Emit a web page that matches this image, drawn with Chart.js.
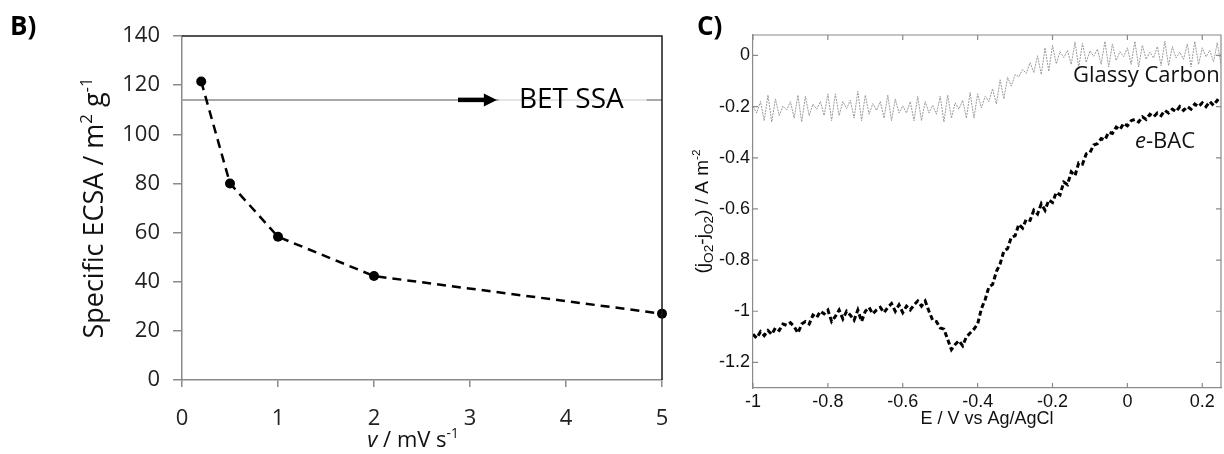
<!DOCTYPE html>
<html><head><meta charset="utf-8">
<script src="https://cdn.jsdelivr.net/npm/chart.js@4/dist/chart.umd.min.js"></script>
<style>
html,body{margin:0;padding:0;background:#fff;width:1224px;height:454px;overflow:hidden}
#wb{position:absolute;left:0;top:0;width:680px;height:454px}
#wc{position:absolute;left:680px;top:0;width:544px;height:454px}
</style></head><body>
<div id="wb"><canvas id="cb" width="680" height="454"></canvas></div>
<div id="wc"><canvas id="cc" width="544" height="454"></canvas></div>
<script>
// ---------- Panel B data ----------
const scanRates = [0.2, 0.5, 1, 2, 5];
const specificECSA = [121.5, 80, 58.3, 42.3, 27];
const betSSA = 114;
const bXTicks = [0, 1, 2, 3, 4, 5];
const bYTicks = [0, 20, 40, 60, 80, 100, 120, 140];

// ---------- Panel C data ----------
const potentialE = [
 -1.00,-0.99,-0.98,-0.97,-0.96,-0.95,-0.94,-0.93,-0.92,-0.91,
 -0.90,-0.89,-0.88,-0.87,-0.86,-0.85,-0.84,-0.83,-0.82,-0.81,
 -0.80,-0.79,-0.78,-0.77,-0.76,-0.75,-0.74,-0.73,-0.72,-0.71,
 -0.70,-0.69,-0.68,-0.67,-0.66,-0.65,-0.64,-0.63,-0.62,-0.61,
 -0.60,-0.59,-0.58,-0.57,-0.56,-0.55,-0.54,-0.53,-0.52,-0.51,
 -0.50,-0.49,-0.48,-0.47,-0.46,-0.45,-0.44,-0.43,-0.42,-0.41,
 -0.40,-0.39,-0.38,-0.37,-0.36,-0.35,-0.34,-0.33,-0.32,-0.31,
 -0.30,-0.29,-0.28,-0.27,-0.26,-0.25,-0.24,-0.23,-0.22,-0.21,
 -0.20,-0.19,-0.18,-0.17,-0.16,-0.15,-0.14,-0.13,-0.12,-0.11,
 -0.10,-0.09,-0.08,-0.07,-0.06,-0.05,-0.04,-0.03,-0.02,-0.01,
  0.00, 0.01, 0.02, 0.03, 0.04, 0.05, 0.06, 0.07, 0.08, 0.09,
  0.10, 0.11, 0.12, 0.13, 0.14, 0.15, 0.16, 0.17, 0.18, 0.19,
  0.20, 0.21, 0.22, 0.23, 0.24, 0.25
];
const glassyCarbon = [
 -0.200,-0.225,-0.180,-0.255,-0.155,-0.260,-0.170,-0.235,-0.198,-0.213,
 -0.180,-0.245,-0.155,-0.260,-0.160,-0.235,-0.190,-0.210,-0.180,-0.235,
 -0.150,-0.255,-0.150,-0.235,-0.180,-0.208,-0.175,-0.245,-0.140,-0.255,
 -0.155,-0.230,-0.188,-0.215,-0.180,-0.245,-0.155,-0.255,-0.170,-0.225,
 -0.197,-0.225,-0.180,-0.255,-0.160,-0.255,-0.180,-0.225,-0.195,-0.230,
 -0.160,-0.260,-0.155,-0.245,-0.185,-0.210,-0.175,-0.245,-0.145,-0.245,
 -0.150,-0.205,-0.160,-0.180,-0.130,-0.190,-0.095,-0.170,-0.085,-0.120,
 -0.075,-0.083,-0.055,-0.070,-0.028,-0.067,-0.001,-0.075, 0.030,-0.062,
  0.039,-0.033, 0.015,-0.008, 0.020,-0.035, 0.053,-0.047, 0.048,-0.027,
  0.018,-0.003, 0.025,-0.035, 0.055,-0.045, 0.045,-0.020, 0.015,-0.005,
  0.030,-0.035, 0.055,-0.045, 0.040,-0.015, 0.013,-0.010, 0.035,-0.040,
  0.055,-0.040, 0.035,-0.010, 0.013,-0.015, 0.045,-0.045, 0.055,-0.035,
  0.030,-0.005, 0.020,-0.025, 0.050,-0.035
];
const eBAC = [
 -1.090,-1.105,-1.080,-1.095,-1.075,-1.090,-1.065,-1.075,-1.050,-1.055,
 -1.045,-1.060,-1.085,-1.050,-1.040,-1.050,-1.015,-1.025,-1.000,-1.010,
 -0.995,-1.040,-1.020,-0.995,-1.030,-1.000,-1.015,-1.035,-0.995,-1.040,
 -1.000,-0.985,-1.010,-0.995,-0.985,-1.005,-0.985,-0.970,-1.000,-0.975,
 -1.005,-0.980,-0.995,-0.975,-0.960,-0.980,-0.960,-1.000,-1.035,-1.040,
 -1.065,-1.070,-1.110,-1.150,-1.130,-1.115,-1.135,-1.100,-1.085,-1.070,
 -1.050,-0.990,-0.955,-0.905,-0.895,-0.845,-0.815,-0.765,-0.755,-0.710,
 -0.705,-0.660,-0.675,-0.640,-0.645,-0.605,-0.620,-0.580,-0.605,-0.565,
 -0.575,-0.535,-0.545,-0.495,-0.505,-0.455,-0.470,-0.420,-0.425,-0.385,
 -0.380,-0.350,-0.345,-0.325,-0.330,-0.300,-0.305,-0.280,-0.290,-0.265,
 -0.275,-0.255,-0.250,-0.260,-0.240,-0.250,-0.230,-0.240,-0.225,-0.235,
 -0.215,-0.225,-0.210,-0.220,-0.200,-0.215,-0.200,-0.210,-0.190,-0.200,
 -0.185,-0.200,-0.180,-0.195,-0.175,-0.185
];
const cXTicks = [-1, -0.8, -0.6, -0.4, -0.2, 0, 0.2];
const cXTickLabels = ['-1', '-0.8', '-0.6', '-0.4', '-0.2', '0', '0.2'];
const cYTicks = [0, -0.2, -0.4, -0.6, -0.8, -1, -1.2];
const cYTickLabels = ['0', '-0.2', '-0.4', '-0.6', '-0.8', '-1', '-1.2'];

// ---------- helpers ----------
function drawRich(ctx, segs, x, y, o) {
  ctx.save();
  ctx.translate(x, y);
  if (o.rotate) ctx.rotate(-Math.PI / 2);
  ctx.textBaseline = 'alphabetic';
  ctx.textAlign = 'left';
  ctx.fillStyle = o.color || '#000';
  const items = segs.map(sg => {
    const sz = sg.k ? o.size * (sg.k === 'sup' ? 0.62 : 0.72) : o.size;
    const font = (sg.i ? 'italic ' : '') + (o.weight || '') + ' ' + sz + 'px ' + o.family;
    ctx.font = font;
    return {t: sg.t, font, w: ctx.measureText(sg.t).width,
      dy: sg.k === 'sup' ? -o.size * 0.4 : (sg.k === 'sub' ? o.size * 0.25 : 0)};
  });
  const total = items.reduce((a, b) => a + b.w, 0);
  let cx = o.align === 'center' ? -total / 2 : 0;
  items.forEach(it => { ctx.font = it.font; ctx.fillText(it.t, cx, it.dy); cx += it.w; });
  ctx.restore();
}
function noPad(s) { s.paddingLeft = 0; s.paddingRight = 0; s.paddingTop = 0; s.paddingBottom = 0; }

const OPEN = '"Open Sans", "DejaVu Sans", sans-serif';
const ARIAL = '"Liberation Sans", Arial, sans-serif';

// ---------- Panel B ----------
const bDecor = {
  id: 'bDecor',
  afterDatasetsDraw(chart) {
    const {ctx, scales: {x, y}} = chart;
    const yb = y.getPixelForValue(betSSA);
    ctx.save();
    ctx.fillStyle = 'rgba(255,255,255,0.7)';
    const vx0 = x.getPixelForValue(3.3), vx1 = x.getPixelForValue(4.84);
    ctx.fillRect(vx0, yb - 3, vx1 - vx0, 6);
    const ax0 = x.getPixelForValue(2.875), ax1 = x.getPixelForValue(3.28);
    ctx.strokeStyle = '#000'; ctx.lineWidth = 4.5;
    ctx.beginPath(); ctx.moveTo(ax0, yb); ctx.lineTo(ax1 - 10, yb); ctx.stroke();
    ctx.fillStyle = '#000';
    ctx.beginPath(); ctx.moveTo(ax1, yb); ctx.lineTo(ax1 - 13, yb - 6.5); ctx.lineTo(ax1 - 13, yb + 6.5); ctx.closePath(); ctx.fill();
    ctx.font = '28px ' + OPEN; ctx.textBaseline = 'alphabetic'; ctx.textAlign = 'left';
    ctx.fillText('BET SSA', x.getPixelForValue(3.51), yb + 8);
    ctx.restore();
  },
  afterDraw(chart) {
    const {ctx, chartArea: a} = chart;
    ctx.save();
    ctx.strokeStyle = '#1a1a1a'; ctx.lineWidth = 1.5;
    ctx.beginPath(); ctx.moveTo(a.left, a.top); ctx.lineTo(a.right, a.top); ctx.lineTo(a.right, a.bottom); ctx.stroke();
    ctx.restore();
    drawRich(ctx, [{t: 'Specific ECSA / m'}, {t: '2', k: 'sup'}, {t: ' g'}, {t: '-1', k: 'sup'}],
      103, (a.top + a.bottom) / 2, {rotate: true, align: 'center', size: 27, family: OPEN, color: '#111'});
    drawRich(ctx, [{t: 'v', i: true}, {t: ' / mV s'}, {t: '-1', k: 'sup'}],
      (a.left + a.right) / 2 - 9, 447, {align: 'center', size: 22, family: OPEN, color: '#111'});
    drawRich(ctx, [{t: 'B)'}], 10, 35, {size: 26, family: OPEN, weight: 'bold', color: '#000'});
  }
};

new Chart(document.getElementById('cb'), {
  type: 'line',
  data: {datasets: [
    {data: scanRates.map((v, i) => ({x: v, y: specificECSA[i]})), borderColor: '#000', borderWidth: 2.5,
     borderDash: [9, 6], pointRadius: 5, pointBackgroundColor: '#000', pointBorderWidth: 0, clip: false, tension: 0},
    {data: [{x: bXTicks[0], y: betSSA}, {x: bXTicks[bXTicks.length - 1], y: betSSA}], borderColor: '#a8a8a8',
     borderWidth: 2, pointRadius: 0}
  ]},
  options: {
    responsive: false, animation: false, events: [],
    layout: {padding: {left: 0, right: 18, top: 36, bottom: 0}},
    plugins: {legend: {display: false}, tooltip: {enabled: false}},
    scales: {
      x: {type: 'linear', min: 0, max: 5,
        afterBuildTicks: s => { s.ticks = bXTicks.map(v => ({value: v})); },
        afterFit: s => { s.height = 74; noPad(s); },
        grid: {drawOnChartArea: false, tickLength: 7, color: '#8a8a8a', lineWidth: 1.5},
        border: {color: '#8a8a8a', width: 1.5},
        ticks: {font: {family: OPEN, size: 22}, color: '#222', padding: 19, maxRotation: 0, autoSkip: false}},
      y: {type: 'linear', min: 0, max: 140,
        afterBuildTicks: s => { s.ticks = bYTicks.map(v => ({value: v})); },
        afterFit: s => { s.width = 182; noPad(s); },
        grid: {drawOnChartArea: false, tickLength: 9, color: '#8a8a8a', lineWidth: 1.5},
        border: {color: '#8a8a8a', width: 1.5},
        ticks: {font: {family: OPEN, size: 22}, color: '#222', padding: 13, autoSkip: false}}
    }
  },
  plugins: [bDecor]
});

// ---------- Panel C ----------
const cDecor = {
  id: 'cDecor',
  afterDraw(chart) {
    const {ctx, chartArea: a, scales: {x, y}} = chart;
    ctx.save();
    ctx.strokeStyle = '#8a8a8a'; ctx.lineWidth = 1.2;
    ctx.beginPath(); ctx.moveTo(a.left, a.top); ctx.lineTo(a.right, a.top); ctx.lineTo(a.right, a.bottom); ctx.stroke();
    const L = 5;
    ctx.beginPath();
    cXTicks.forEach(v => { const px = x.getPixelForValue(v);
      ctx.moveTo(px, a.top); ctx.lineTo(px, a.top + L); ctx.moveTo(px, a.bottom); ctx.lineTo(px, a.bottom - L); });
    cYTicks.forEach(v => { const py = y.getPixelForValue(v);
      ctx.moveTo(a.left, py); ctx.lineTo(a.left + L, py); ctx.moveTo(a.right, py); ctx.lineTo(a.right - L, py); });
    ctx.stroke();
    ctx.restore();
    drawRich(ctx, [{t: '(j'}, {t: 'O2', k: 'sub'}, {t: '-j'}, {t: 'O2', k: 'sub'}, {t: ') / A m'}, {t: '-2', k: 'sup'}],
      28, (a.top + a.bottom) / 2, {rotate: true, align: 'center', size: 19, family: ARIAL, color: '#111'});
    drawRich(ctx, [{t: 'E / V vs Ag/AgCl'}], (a.left + a.right) / 2, 424, {align: 'center', size: 18, family: ARIAL, color: '#111'});
    drawRich(ctx, [{t: 'C)'}], 17, 35, {size: 26, family: OPEN, weight: 'bold', color: '#000'});
    drawRich(ctx, [{t: 'Glassy Carbon'}], 393, 82, {size: 22, family: OPEN, color: '#111'});
    drawRich(ctx, [{t: 'e', i: true}, {t: '-BAC'}], 455, 148, {size: 22, family: OPEN, color: '#111'});
  }
};

new Chart(document.getElementById('cc'), {
  type: 'line',
  data: {datasets: [
    {data: potentialE.map((v, i) => ({x: v, y: glassyCarbon[i]})), borderColor: '#9a9a9a', borderWidth: 1,
     borderDash: [2, 1], pointRadius: 0, tension: 0},
    {data: potentialE.map((v, i) => ({x: v, y: eBAC[i]})), borderColor: '#000', borderWidth: 3,
     borderDash: [5, 3], pointRadius: 0, tension: 0}
  ]},
  options: {
    responsive: false, animation: false, events: [],
    layout: {padding: {left: 0, right: 3, top: 35, bottom: 0}},
    plugins: {legend: {display: false}, tooltip: {enabled: false}},
    scales: {
      x: {type: 'linear', min: -1, max: 0.25,
        afterBuildTicks: s => { s.ticks = cXTicks.map(v => ({value: v})); },
        afterFit: s => { s.height = 66; noPad(s); },
        grid: {drawOnChartArea: false, drawTicks: false},
        border: {color: '#8a8a8a', width: 1.2},
        ticks: {font: {family: ARIAL, size: 18}, color: '#111', padding: 3, maxRotation: 0, autoSkip: false,
          callback: (v, i) => cXTickLabels[i]}},
      y: {type: 'linear', min: -1.3, max: 0.08,
        afterBuildTicks: s => { s.ticks = cYTicks.map(v => ({value: v})); },
        afterFit: s => { s.width = 73; noPad(s); },
        grid: {drawOnChartArea: false, drawTicks: false},
        border: {color: '#8a8a8a', width: 1.2},
        ticks: {font: {family: ARIAL, size: 18}, color: '#111', padding: 3, autoSkip: false,
          callback: (v, i) => cYTickLabels[i]}}
    }
  },
  plugins: [cDecor]
});
</script>
</body></html>
